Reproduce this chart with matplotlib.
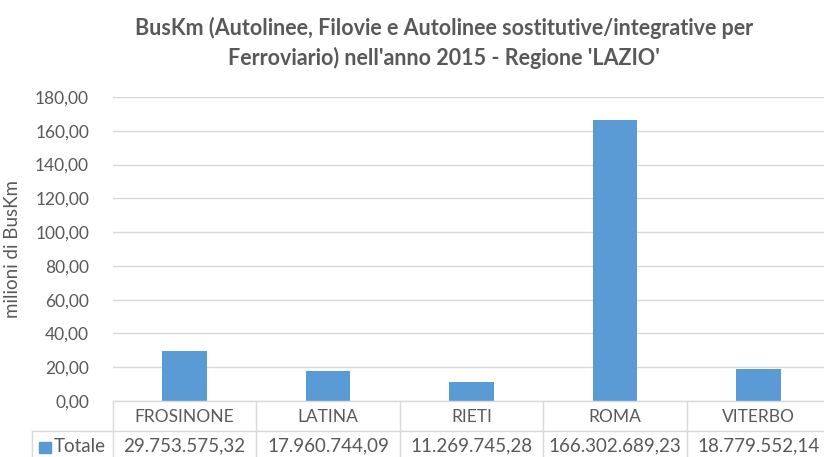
import matplotlib
matplotlib.use('Agg')
import matplotlib.pyplot as plt
from matplotlib.lines import Line2D
from matplotlib.patches import Rectangle

plt.rcParams['font.family'] = ['Lato', 'DejaVu Sans']

province = ['FROSINONE', 'LATINA', 'RIETI', 'ROMA', 'VITERBO']
buskm = [29753575.32, 17960744.09, 11269745.28, 166302689.23, 18779552.14]
yticks = [0, 20, 40, 60, 80, 100, 120, 140, 160, 180]

grey = '#595959'
line_col = '#d9d9d9'
bar_col = '#5b9bd5'


def it_num(v):
    s = f'{v:,.2f}'
    return s.replace(',', 'X').replace('.', ',').replace('X', '.')


W, H = 824, 457
fig = plt.figure(figsize=(W / 100, H / 100), dpi=100)

# plot area in pixels: x 112.7..830 (cropped at right), y 97..401
x0, x1 = 112.7, 830.2
y_top, y_base = 97, 401
ax = fig.add_axes([x0 / W, 1 - y_base / H, (x1 - x0) / W, (y_base - y_top) / H])

vals = [v / 1e6 for v in buskm]
pos = list(range(len(province)))
ax.bar(pos, vals, width=0.31, color=bar_col, zorder=3)
ax.set_xlim(-0.5, len(province) - 0.5)
ax.set_ylim(0, 180)
ax.set_yticks(yticks)
ax.set_yticklabels([it_num(t) for t in yticks], color=grey, fontsize=12.5)
ax.tick_params(axis='y', length=0, pad=17)
ax.set_xticks([])
ax.grid(axis='y', color=line_col, linewidth=1, zorder=0)
for s in ax.spines.values():
    s.set_visible(False)
ax.set_ylabel('milioni di BusKm', color=grey, fontsize=13.5)
ax.yaxis.set_label_coords((21 - x0) / (x1 - x0), 0.5)


# data table below the plot, drawn in figure pixel coords
def px(x, y):
    return x / W, 1 - y / H


col_w = (x1 - x0) / len(province)
row1, row2, row3 = 401, 431, 462
left = 32
lines = [
    ((x0, x1 + 10), (row1, row1)),
    ((left, x1 + 10), (row2, row2)),
    ((left, left), (row2, row3)),
]
for i in range(len(province) + 1):
    xx = x0 + i * col_w
    lines.append(((xx, xx), (row1, row3)))
for xs, ys in lines:
    fx = [x / W for x in xs]
    fy = [1 - y / H for y in ys]
    fig.add_artist(Line2D(fx, fy, color=line_col, linewidth=1))

for i, (name, v) in enumerate(zip(province, buskm)):
    cx = x0 + (i + 0.5) * col_w
    fig.text(*px(cx, (row1 + row2) / 2 + 1), name, ha='center', va='center',
             color=grey, fontsize=12.5)
    fig.text(*px(cx, 446), it_num(v), ha='center', va='center',
             color=grey, fontsize=13.5)

fig.add_artist(Rectangle(px(39, 453), 12 / W, 11 / H, color=bar_col,
                         transform=fig.transFigure))
fig.text(*px(54, 446), 'Totale', ha='left', va='center', color=grey, fontsize=13.5)

fig.text(444 / W, 1 - 43 / H,
         "BusKm (Autolinee, Filovie e Autolinee sostitutive/integrative per\n"
         "Ferroviario) nell'anno 2015 - Regione 'LAZIO'",
         ha='center', va='center', color=grey, fontsize=15.5, fontweight='bold',
         linespacing=1.45)

fig.savefig('out.png', dpi=100)
